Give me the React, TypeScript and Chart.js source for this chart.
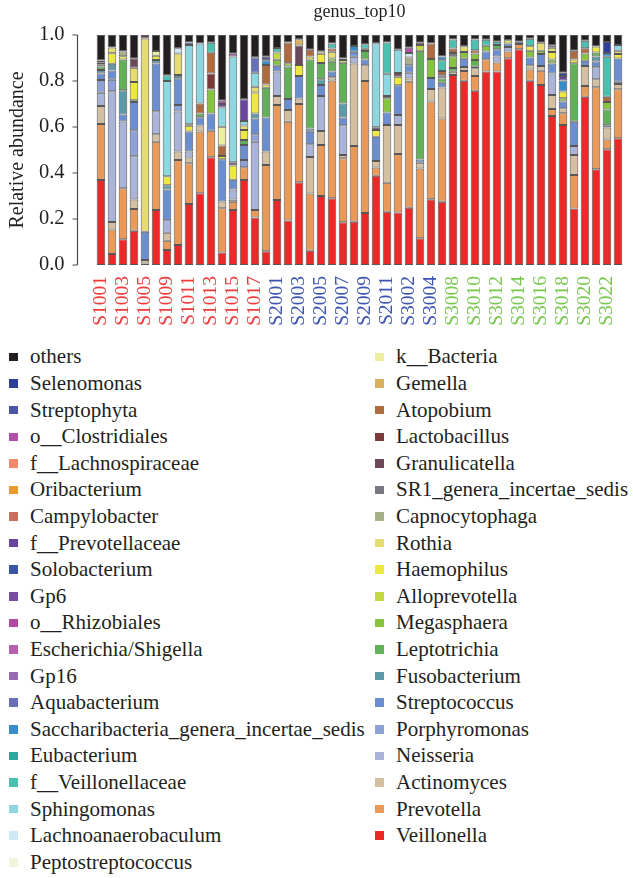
import React, { useEffect, useRef } from 'react';
import { Chart, registerables } from 'chart.js';

Chart.register(...registerables);

// ---------- categories ----------
const GROUP_A_SAMPLES = ['S1001','S1002','S1003','S1004','S1005','S1007','S1009','S1010','S1011','S1012','S1013','S1014','S1015','S1016','S1017','S1018'];
const GROUP_B_SAMPLES = ['S2001','S2002','S2003','S2004','S2005','S2006','S2007','S2008','S2009','S2010','S2011','S3001','S3002','S3003','S3004','S3006'];
const GROUP_C_SAMPLES = ['S3008','S3009','S3010','S3011','S3012','S3013','S3014','S3015','S3016','S3017','S3018','S3019','S3020','S3021','S3022','S3023'];
const SAMPLES = [...GROUP_A_SAMPLES, ...GROUP_B_SAMPLES, ...GROUP_C_SAMPLES];
const Y_TICKS = [0, 0.2, 0.4, 0.6, 0.8, 1.0];

// ---------- series values (relative abundance) ----------
const Veillonella = [
  0.37,0.048,0.112,0.149,0.007,0.239,0.065,0.087,
  0.265,0.312,0.468,0.054,0.239,0.37,0.207,0.06,
  0.283,0.193,0.36,0.062,0.3,0.29,0.186,0.188,
  0.226,0.388,0.232,0.228,0.249,0.116,0.286,0.275,
  0.826,0.801,0.758,0.841,0.841,0.899,0.938,0.801,
  0.783,0.648,0.609,0.246,0.732,0.416,0.503,0.551];
const Prevotella = [
  0.243,0.106,0.222,0.094,0,0.297,0.04,0.37,
  0.177,0.268,0.116,0.193,0.036,0.055,0.032,0.375,
  0.413,0.43,0.34,0.249,0.222,0.512,0.278,0.329,
  0.574,0.036,0.126,0.255,0.548,0.304,0.425,0.362,
  0,0.043,0.064,0.054,0.039,0.029,0.023,0.049,
  0.062,0.03,0.051,0.145,0.046,0.357,0.043,0.213];
const Actinomyces = [
  0.078,0.033,0,0.042,0.015,0.033,0.035,0.036,
  0.025,0.026,0,0.029,0.01,0,0,0.058,
  0.039,0.051,0.024,0.159,0.061,0.014,0.014,0.359,
  0.069,0.028,0.251,0.126,0.014,0.025,0.054,0.135,
  0.014,0.017,0.033,0,0,0,0,0.019,
  0.02,0.061,0.022,0.087,0.087,0.035,0.052,0.023];
const Neisseria = [
  0.058,0.568,0.29,0.188,0,0.1,0.055,0.174,
  0.026,0,0,0,0.043,0,0.297,0,
  0.106,0,0,0.055,0.152,0,0.13,0.029,
  0,0,0,0.043,0.025,0,0,0,
  0,0,0,0,0.026,0.02,0,0,
  0,0.094,0,0.039,0,0.052,0,0.01];
const Porphyromonas = [
  0.055,0.05,0,0.113,0,0,0,0.029,
  0,0,0,0,0,0.032,0.033,0,
  0,0,0,0,0,0,0,0,
  0,0,0,0,0,0,0,0,
  0,0,0,0,0,0,0,0,
  0,0,0,0,0,0,0,0];
const Streptococcus = [
  0.029,0.041,0.03,0.123,0.123,0.207,0.133,0.116,
  0.087,0.036,0.075,0.184,0.043,0.065,0.068,0.148,
  0.025,0.048,0.098,0.054,0.048,0.025,0.033,0.022,
  0.025,0.106,0.054,0.13,0.033,0.014,0.048,0.02,
  0,0.036,0.007,0.033,0.032,0.015,0.01,0.033,
  0.052,0.043,0.029,0.106,0.023,0.025,0.01,0.101];
const Fusobacterium = [
  0.015,0.029,0.106,0.007,0,0.015,0.019,0.014,
  0,0,0,0,0,0,0.022,0,
  0,0,0,0.014,0.025,0,0.061,0,
  0,0,0,0,0,0,0,0,
  0,0,0,0,0,0,0,0,
  0,0,0,0,0,0.022,0,0];
const Leptotrichia = [
  0.015,0,0.133,0,0,0,0,0,
  0,0.017,0,0,0,0.022,0,0.13,
  0,0.141,0,0.3,0.07,0.043,0.177,0,
  0.036,0,0,0,0,0.472,0,0.019,
  0.017,0,0.029,0,0.019,0,0,0,
  0,0,0,0.254,0,0.017,0.068,0];
const Megasphaera = [
  0.01,0,0,0,0,0,0,0,
  0,0,0.104,0,0,0,0,0,
  0.026,0.014,0,0,0,0.014,0,0,
  0.01,0,0.062,0,0,0,0.083,0,
  0.051,0.029,0.029,0.025,0,0,0,0.029,
  0.014,0.017,0.014,0,0.032,0,0.033,0];
const Alloprevotella = [
  0.008,0,0,0,0,0,0,0,
  0,0,0,0,0,0,0,0,
  0.032,0,0,0,0,0,0.012,0,
  0,0,0,0,0,0.025,0,0,
  0,0,0,0,0,0,0,0,
  0,0,0,0,0,0,0,0];
const Haemophilus = [
  0.008,0.046,0.015,0.08,0,0.019,0.039,0,
  0.025,0,0,0.014,0.062,0.043,0.091,0.014,
  0,0,0.048,0.014,0.041,0,0,0,
  0,0.029,0,0.036,0,0,0,0,
  0,0,0,0,0,0.014,0,0.02,
  0,0.033,0.029,0.017,0,0.026,0,0.019];
const Rothia = [
  0,0.025,0,0.062,0.84,0,0,0.094,
  0,0,0,0,0,0.02,0.025,0,
  0,0,0,0,0,0.029,0,0,
  0,0,0,0,0,0,0,0,
  0,0.025,0,0,0,0,0,0,
  0.035,0.019,0,0,0,0,0,0.014];
const Capnocytophaga = [
  0,0,0.02,0,0,0,0,0,
  0,0,0,0,0,0,0,0,
  0,0,0,0,0,0,0,0,
  0,0,0,0,0.033,0,0,0,
  0,0,0,0,0,0,0,0,
  0,0,0,0,0,0,0,0];
const SR1_genera_incertae_sedis = [
  0,0,0,0,0,0,0,0,
  0.007,0,0,0,0,0,0,0,
  0,0,0,0,0,0,0,0,
  0,0,0.01,0,0,0,0,0.014,
  0.014,0,0,0,0,0,0,0,
  0,0,0,0,0,0,0,0];
const Granulicatella = [
  0,0,0,0.039,0.015,0,0,0,
  0,0,0,0,0.014,0,0,0,
  0,0,0.084,0,0,0,0,0,
  0,0.012,0,0.017,0,0,0,0,
  0,0,0,0,0,0,0,0,
  0,0.01,0,0,0,0,0,0];
const Lactobacillus = [
  0,0,0,0,0,0,0,0,
  0,0,0.07,0,0,0,0,0,
  0,0,0,0,0,0,0,0,
  0,0,0,0,0,0,0,0,
  0,0,0,0,0,0,0,0,
  0,0,0,0,0,0,0,0];
const Atopobium = [
  0,0,0,0,0,0,0,0,
  0,0.043,0.09,0.046,0,0,0,0.085,
  0,0.09,0,0.029,0,0.014,0,0,
  0,0,0,0,0,0.01,0.067,0.019,
  0.019,0,0.014,0,0,0,0,0,
  0,0,0,0.038,0.022,0,0.022,0];
const Gemella = [
  0,0,0,0,0,0,0,0,
  0,0,0,0,0,0,0,0,
  0,0,0.028,0,0,0,0,0,
  0,0,0,0,0,0,0,0,
  0,0,0,0,0,0,0,0,
  0,0,0,0,0,0,0,0];
const k__Bacteria = [
  0,0,0,0,0,0.02,0,0,
  0,0,0,0.081,0,0,0,0,
  0,0,0,0,0.01,0,0,0,
  0,0,0,0,0,0,0,0,
  0,0,0,0,0,0,0,0,
  0,0,0,0,0,0,0,0];
const Peptostreptococcus = [
  0,0,0,0,0,0,0,0, 0,0,0,0,0,0,0,0, 0,0,0,0,0,0,0,0,
  0,0,0,0,0,0,0,0, 0,0,0,0,0,0,0,0, 0,0,0,0,0,0,0,0];
const Lachnoanaerobaculum = [
  0,0,0,0,0,0,0,0.022,
  0,0,0,0,0,0,0,0,
  0,0,0,0,0,0,0,0,
  0,0,0,0,0.02,0,0,0,
  0,0,0,0,0,0,0,0,
  0,0,0,0,0,0,0,0];
const Sphingomonas = [
  0,0,0,0,0,0,0.414,0,
  0.345,0.261,0,0.084,0.46,0.019,0.061,0,
  0,0,0,0,0,0,0,0,
  0,0.365,0.096,0.101,0,0,0,0,
  0,0,0,0,0,0,0,0,
  0,0,0,0,0,0,0,0.025];
const f__Veillonellaceae = [
  0,0,0,0,0,0,0.025,0,
  0,0,0.043,0,0,0,0,0,
  0.019,0,0,0,0,0.022,0.007,0,
  0.02,0,0.136,0,0,0,0,0.046,
  0.039,0,0.046,0.026,0.014,0,0,0.033,
  0,0,0,0,0.033,0,0.174,0];
const Eubacterium = [
  0,0,0,0,0,0,0,0, 0,0,0,0,0,0,0,0, 0,0,0,0,0,0,0,0,
  0,0,0,0,0,0,0,0, 0,0,0,0,0,0,0,0, 0,0,0,0,0,0,0,0];
const Saccharibacteria_genera_incertae_sedis = [
  0,0,0,0,0,0,0,0,
  0,0,0,0,0,0,0,0.02,
  0,0,0,0,0,0,0,0.025,
  0,0,0,0,0,0,0,0.017,
  0,0,0,0,0,0,0,0,
  0,0,0.048,0,0,0,0.017,0];
const Aquabacterium = [
  0,0,0,0,0,0,0,0,
  0,0,0,0,0,0,0.067,0,
  0,0,0,0,0,0,0,0,
  0,0,0,0,0,0,0,0,
  0,0,0,0,0,0,0,0,
  0,0,0,0,0,0,0,0];
const Gp16 = [
  0,0,0,0,0,0,0,0, 0,0,0,0,0,0,0,0, 0,0,0,0,0,0,0,0,
  0,0,0,0,0,0,0,0, 0,0,0,0,0,0,0,0, 0,0,0,0,0,0,0,0];
const Escherichia_Shigella = [
  0,0,0,0,0,0,0,0, 0,0,0,0,0,0,0,0, 0,0,0,0,0,0,0,0,
  0,0,0,0,0,0,0,0, 0,0,0,0,0,0,0,0, 0,0,0,0,0,0,0,0];
const o__Rhizobiales = [
  0,0,0,0,0,0,0,0, 0,0,0,0,0,0,0,0, 0,0,0,0,0,0,0,0,
  0,0,0,0,0,0,0,0, 0,0,0,0,0,0,0,0, 0,0,0,0,0,0,0,0];
const Gp6 = [
  0,0,0,0,0,0,0,0,
  0,0,0,0.015,0,0,0,0,
  0,0,0,0,0,0,0,0,
  0,0,0,0,0,0,0,0,
  0,0,0,0,0,0,0,0,
  0,0,0,0,0,0,0,0];
const Solobacterium = [
  0,0,0,0,0,0,0,0,
  0.01,0,0,0,0,0,0,0,
  0,0,0,0,0,0,0,0,
  0,0,0,0,0,0,0,0,
  0,0,0,0,0,0,0,0,
  0,0,0,0,0,0,0,0];
const f__Prevotellaceae = [
  0,0,0,0,0,0,0,0,
  0,0,0,0,0,0.095,0,0,
  0,0,0,0,0,0,0,0,
  0,0,0,0,0,0,0,0,
  0,0,0,0,0,0,0,0,
  0,0,0.02,0,0,0,0,0];
const Campylobacter = [
  0,0,0,0,0,0,0,0, 0,0,0,0,0,0,0,0, 0,0,0,0,0,0,0,0,
  0,0,0,0,0,0,0,0, 0,0,0,0,0,0,0,0, 0,0,0,0,0,0,0,0];
const Oribacterium = [
  0,0,0,0,0,0,0,0, 0,0,0,0,0,0,0,0, 0,0,0,0,0,0,0,0,
  0,0,0,0,0,0,0,0, 0,0,0,0,0,0,0,0, 0,0,0,0,0,0,0,0];
const f__Lachnospiraceae = [
  0,0,0,0,0,0,0,0, 0,0,0,0,0,0,0,0, 0,0,0,0,0,0,0,0,
  0,0,0,0,0,0,0,0, 0,0,0,0,0,0,0,0, 0,0,0,0,0,0,0,0];
const o__Clostridiales = [
  0,0,0,0,0,0,0,0,
  0,0,0,0.014,0.012,0,0,0,
  0,0,0,0,0,0,0,0,
  0,0,0,0,0.023,0,0,0,
  0,0,0,0,0,0,0,0,
  0,0,0,0,0,0,0,0];
const Streptophyta = [
  0,0,0,0,0,0,0,0,
  0,0,0,0,0,0,0,0.015,
  0,0,0,0,0,0,0,0,
  0,0,0,0,0,0,0,0,
  0,0,0,0,0,0,0,0,
  0,0,0,0,0,0,0,0];
const Selenomonas = [
  0,0,0,0,0,0,0,0,
  0,0,0,0,0,0,0,0,
  0,0,0,0,0,0,0,0,
  0,0,0,0,0,0,0,0,
  0,0,0,0,0,0,0,0,
  0,0,0.014,0,0,0,0.048,0];
const others = [
  0.111,0.054,0.072,0.103,0,0.07,0.175,0.058,
  0.033,0.037,0.034,0.286,0.081,0.279,0.097,0.095,
  0.057,0.033,0.018,0.064,0.071,0.037,0.102,0.048,
  0.04,0.036,0.033,0.064,0.055,0.034,0.037,0.093,
  0.02,0.049,0.02,0.021,0.029,0.023,0.029,0.016,
  0.034,0.045,0.164,0.068,0.025,0.05,0.03,0.044];

// stack order: bottom (first) to top (last)
const GENUS_NAMES = [
  'Veillonella','Prevotella','Actinomyces','Neisseria','Porphyromonas','Streptococcus','Fusobacterium',
  'Leptotrichia','Megasphaera','Alloprevotella','Haemophilus','Rothia','Capnocytophaga',
  'SR1_genera_incertae_sedis','Granulicatella','Lactobacillus','Atopobium','Gemella','k__Bacteria',
  'Peptostreptococcus','Lachnoanaerobaculum','Sphingomonas','f__Veillonellaceae','Eubacterium',
  'Saccharibacteria_genera_incertae_sedis','Aquabacterium','Gp16','Escherichia/Shigella','o__Rhizobiales',
  'Gp6','Solobacterium','f__Prevotellaceae','Campylobacter','Oribacterium','f__Lachnospiraceae',
  'o__Clostridiales','Streptophyta','Selenomonas','others'];
const GENUS_VALUES = [
  Veillonella, Prevotella, Actinomyces, Neisseria, Porphyromonas, Streptococcus, Fusobacterium,
  Leptotrichia, Megasphaera, Alloprevotella, Haemophilus, Rothia, Capnocytophaga,
  SR1_genera_incertae_sedis, Granulicatella, Lactobacillus, Atopobium, Gemella, k__Bacteria,
  Peptostreptococcus, Lachnoanaerobaculum, Sphingomonas, f__Veillonellaceae, Eubacterium,
  Saccharibacteria_genera_incertae_sedis, Aquabacterium, Gp16, Escherichia_Shigella, o__Rhizobiales,
  Gp6, Solobacterium, f__Prevotellaceae, Campylobacter, Oribacterium, f__Lachnospiraceae,
  o__Clostridiales, Streptophyta, Selenomonas, others];

// ---------- styles ----------
const GENUS_COLORS = [
  '#ec2828','#e99a58','#d4c0a0','#aab4d8','#8ea0d8','#6a8ed0','#5c9aa8',
  '#62b058','#86c440','#c2d840','#ece840','#e4dc70','#a8b08a',
  '#787880','#6a4858','#7a3a3a','#b06a40','#d8b060','#eeeea0',
  '#eef5dc','#cde9f3','#8ed6e0','#4cc0b0','#2aa8a0',
  '#3a8cc8','#6a70b8','#9a6ab0','#b860b0','#b04aa0',
  '#7a4ca0','#3a55a3','#6a45a0','#c4705c','#e89a2e','#f08a6a',
  '#b050a8','#4d55a5','#2e3f99','#231f20'];
const GROUP_COLORS = ['#ee3b3b', '#3d55b0', '#78c850'];
const FONT = 'Liberation Serif';
const TEXT = '#231f20';

const yAxisLinePlugin = {
  id: 'yAxisLine',
  afterDraw(chart: any) {
    const { ctx, chartArea } = chart;
    const y = chart.scales.y;
    const x = chartArea.left - 18;
    ctx.save();
    ctx.strokeStyle = '#4a4a4a';
    ctx.lineWidth = 1.2;
    ctx.beginPath();
    ctx.moveTo(x, y.getPixelForValue(0));
    ctx.lineTo(x, y.getPixelForValue(1));
    Y_TICKS.forEach((v) => {
      const py = y.getPixelForValue(v);
      ctx.moveTo(x - 5, py);
      ctx.lineTo(x, py);
    });
    ctx.stroke();
    ctx.restore();
  },
};

function groupIndexOf(i: number) {
  if (i < GROUP_A_SAMPLES.length) return 0;
  if (i < GROUP_A_SAMPLES.length + GROUP_B_SAMPLES.length) return 1;
  return 2;
}

function StackedChart() {
  const ref = useRef<HTMLCanvasElement | null>(null);
  useEffect(() => {
    if (!ref.current) return;
    const chart = new Chart(ref.current, {
      type: 'bar',
      data: {
        labels: SAMPLES,
        datasets: GENUS_NAMES.map((name, k) => ({
          label: name,
          data: GENUS_VALUES[k],
          backgroundColor: GENUS_COLORS[k],
          borderColor: 'rgba(45,45,45,0.8)',
          borderWidth: 1,
          borderSkipped: false,
          barPercentage: 0.78,
          categoryPercentage: 1,
        })),
      },
      options: {
        responsive: false,
        animation: false,
        devicePixelRatio: 1,
        layout: { padding: { left: 0, right: 9.5, top: 0, bottom: 0 } },
        plugins: {
          legend: { display: false },
          tooltip: { enabled: false },
          title: {
            display: true,
            text: 'genus_top10',
            fullSize: false,
            color: TEXT,
            font: { family: FONT, size: 18, weight: 'normal' },
            padding: { top: 1, bottom: 12.4 },
          },
        },
        scales: {
          x: {
            stacked: true,
            offset: true,
            grid: { display: false, drawTicks: false },
            border: { display: false },
            ticks: {
              autoSkip: false,
              maxRotation: 90,
              minRotation: 90,
              padding: 11,
              font: { family: FONT, size: 19.5 },
              color: (ctx: any) => GROUP_COLORS[groupIndexOf(ctx.index)],
              callback: (_v: any, i: number) => (i % 2 === 0 ? SAMPLES[i] : ''),
            },
            afterFit: (s: any) => { s.height = 75; s.paddingLeft = 0; s.paddingRight = 0; },
          },
          y: {
            stacked: true,
            min: 0,
            max: 1,
            grid: { display: false, drawTicks: false },
            border: { display: false },
            ticks: {
              stepSize: 0.2,
              padding: 31,
              color: TEXT,
              font: { family: FONT, size: 20.5 },
              callback: (v: any) => Number(v).toFixed(1),
            },
            title: {
              display: true,
              text: 'Relative abundance',
              color: TEXT,
              font: { family: FONT, size: 20 },
              padding: { top: 6, bottom: 0 },
            },
            afterFit: (s: any) => { s.width = 95.5; s.paddingTop = 0; s.paddingBottom = 0; },
          },
        },
      },
      plugins: [yAxisLinePlugin],
    });
    return () => chart.destroy();
  }, []);
  return <canvas ref={ref} width={633} height={340} style={{ display: 'block', width: 633, height: 340 }} />;
}

function Legend() {
  const n = GENUS_NAMES.length;
  const leftIdx: number[] = [];
  const rightIdx: number[] = [];
  for (let k = n - 1; k >= 0; k--) {
    if (n - 1 - k < 20) leftIdx.push(k); else rightIdx.push(k);
  }
  const row = (k: number) => (
    <div key={k} style={{ height: 26.6, display: 'flex', alignItems: 'center', whiteSpace: 'nowrap' }}>
      <span style={{ width: 8.5, height: 8.5, background: GENUS_COLORS[k], display: 'inline-block', marginRight: 12.5, flex: 'none' }} />
      <span>{GENUS_NAMES[k]}</span>
    </div>
  );
  return (
    <div style={{ position: 'absolute', top: 343.7, left: 0, width: 633, fontFamily: FONT, fontSize: 21, color: TEXT }}>
      <div style={{ position: 'absolute', left: 9, top: 0 }}>{leftIdx.map((k) => row(k))}</div>
      <div style={{ position: 'absolute', left: 375, top: 0 }}>{rightIdx.map((k) => row(k))}</div>
    </div>
  );
}

export default function App() {
  return (
    <div style={{ position: 'absolute', left: 0, top: 0, width: 633, height: 878, background: '#fff' }}>
      <StackedChart />
      <Legend />
    </div>
  );
}
